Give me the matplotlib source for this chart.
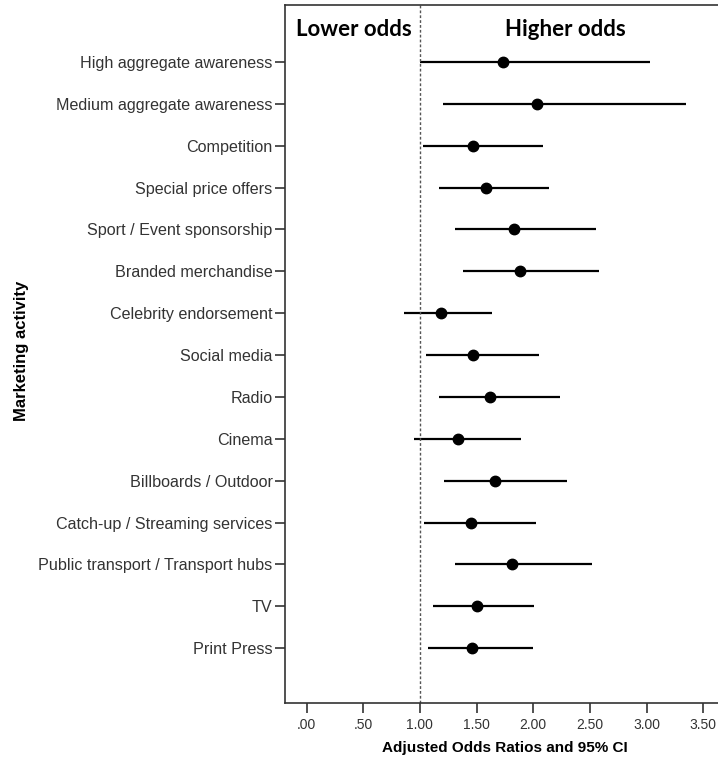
import matplotlib.pyplot as plt

# Marketing activities (top to bottom) and adjusted odds ratios with 95% CI
activities = ['High aggregate awareness', 'Medium aggregate awareness', 'Competition',
              'Special price offers', 'Sport / Event sponsorship', 'Branded merchandise',
              'Celebrity endorsement', 'Social media', 'Radio', 'Cinema',
              'Billboards / Outdoor', 'Catch-up / Streaming services',
              'Public transport / Transport hubs', 'TV', 'Print Press']
odds_ratio = [1.73, 2.03, 1.47, 1.58, 1.83, 1.88, 1.19, 1.47, 1.62, 1.34, 1.66, 1.45, 1.81, 1.50, 1.46]
ci_low = [1.00, 1.20, 1.03, 1.17, 1.31, 1.38, 0.86, 1.05, 1.17, 0.95, 1.21, 1.04, 1.31, 1.12, 1.07]
ci_high = [3.03, 3.35, 2.09, 2.14, 2.55, 2.58, 1.64, 2.05, 2.24, 1.89, 2.30, 2.02, 2.52, 2.01, 2.00]
xticks = [0, 0.5, 1.0, 1.5, 2.0, 2.5, 3.0, 3.5]
xtick_labels = ['.00', '.50', '1.00', '1.50', '2.00', '2.50', '3.00', '3.50']

plt.rcParams['font.family'] = ['Liberation Sans', 'DejaVu Sans']

fig = plt.figure(figsize=(7.18, 7.59), dpi=100)
ax = fig.add_axes([285 / 718, 56 / 759, 433 / 718, 698 / 759])

ypos = list(range(len(activities)))
ax.hlines(ypos, ci_low, ci_high, color='black', linewidth=1.6)
ax.plot(odds_ratio, ypos, 'o', color='black', markersize=7.5)
ax.axvline(1.0, color='#555555', linewidth=1, linestyle=(0, (2, 1.5)))

ax.set_xlim(-0.19, 3.63)
ax.set_ylim(len(activities) - 1 + 1.31, -1.36)
ax.set_xticks(xticks)
ax.set_xticklabels(xtick_labels, fontsize=10, color='#333333')
ax.set_yticks(ypos)
ax.set_yticklabels(activities, fontsize=11.6, color='#333333')
ax.tick_params(axis='y', length=7, width=1.2, color='#333333', pad=2)
ax.tick_params(axis='x', length=7, width=1.2, color='#333333', pad=4)

for side in ['left', 'top', 'bottom']:
    ax.spines[side].set_color('#333333')
    ax.spines[side].set_linewidth(1.2)
ax.spines['right'].set_visible(False)

ax.set_xlabel('Adjusted Odds Ratios and 95% CI', fontsize=11, fontweight='bold', labelpad=8)
ax.xaxis.set_label_coords(505 / 718, 1, transform=fig.transFigure)
ax.xaxis.label.set_verticalalignment('top')
ax.xaxis.label.set_y(1 - 741 / 759)
fig.text(22 / 718, 1 - 351 / 759, 'Marketing activity', rotation=90, fontsize=12,
         fontweight='bold', ha='center', va='center')

# header labels placed in pixel coordinates
ax.text(354, 759 - 30, 'Lower odds', fontsize=16, fontweight='bold', family='Lato',
        ha='center', va='center', transform=None)
ax.text(565, 759 - 30, 'Higher odds', fontsize=16, fontweight='bold', family='Lato',
        ha='center', va='center', transform=None)

fig.savefig('out.png', dpi=100)
